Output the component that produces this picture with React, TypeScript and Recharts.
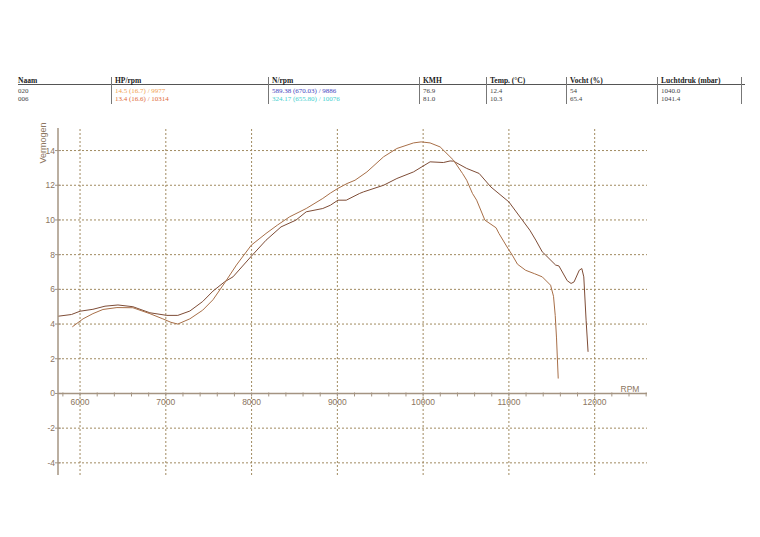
import React from "react";
import { LineChart, Line, XAxis, YAxis, ReferenceLine } from "recharts";

// ---- Data ----
const run020 = [
  { rpm: 5910, hp: 3.84 }, { rpm: 6035, hp: 4.3 }, { rpm: 6150, hp: 4.6 }, { rpm: 6267, hp: 4.84 },
  { rpm: 6430, hp: 4.95 }, { rpm: 6616, hp: 4.94 }, { rpm: 6814, hp: 4.6 }, { rpm: 6965, hp: 4.3 },
  { rpm: 7060, hp: 4.1 }, { rpm: 7140, hp: 4.0 }, { rpm: 7280, hp: 4.3 }, { rpm: 7430, hp: 4.8 },
  { rpm: 7550, hp: 5.4 }, { rpm: 7690, hp: 6.4 }, { rpm: 7823, hp: 7.4 }, { rpm: 7997, hp: 8.55 },
  { rpm: 8168, hp: 9.22 }, { rpm: 8300, hp: 9.7 }, { rpm: 8443, hp: 10.18 }, { rpm: 8637, hp: 10.66 },
  { rpm: 8830, hp: 11.24 }, { rpm: 8919, hp: 11.55 }, { rpm: 9007, hp: 11.82 }, { rpm: 9113, hp: 12.1 },
  { rpm: 9206, hp: 12.29 }, { rpm: 9345, hp: 12.77 }, { rpm: 9539, hp: 13.64 }, { rpm: 9694, hp: 14.12 },
  { rpm: 9888, hp: 14.44 }, { rpm: 9977, hp: 14.5 }, { rpm: 10081, hp: 14.44 }, { rpm: 10198, hp: 14.21 },
  { rpm: 10353, hp: 13.45 }, { rpm: 10459, hp: 12.68 }, { rpm: 10508, hp: 12.29 }, { rpm: 10575, hp: 11.53 },
  { rpm: 10624, hp: 11.14 }, { rpm: 10720, hp: 9.99 }, { rpm: 10850, hp: 9.55 }, { rpm: 10884, hp: 9.22 },
  { rpm: 10990, hp: 8.35 }, { rpm: 11040, hp: 7.97 }, { rpm: 11100, hp: 7.45 }, { rpm: 11195, hp: 7.1 },
  { rpm: 11300, hp: 6.9 }, { rpm: 11389, hp: 6.72 }, { rpm: 11486, hp: 6.24 }, { rpm: 11520, hp: 5.6 },
  { rpm: 11540, hp: 4.5 }, { rpm: 11555, hp: 3.2 }, { rpm: 11575, hp: 0.86 },
];

const run006 = [
  { rpm: 5743, hp: 4.45 }, { rpm: 5900, hp: 4.55 }, { rpm: 6000, hp: 4.74 }, { rpm: 6150, hp: 4.85 },
  { rpm: 6291, hp: 5.03 }, { rpm: 6442, hp: 5.1 }, { rpm: 6616, hp: 5.0 }, { rpm: 6814, hp: 4.65 },
  { rpm: 7012, hp: 4.5 }, { rpm: 7140, hp: 4.5 }, { rpm: 7280, hp: 4.75 }, { rpm: 7430, hp: 5.3 },
  { rpm: 7550, hp: 5.9 }, { rpm: 7687, hp: 6.44 }, { rpm: 7783, hp: 6.72 }, { rpm: 7997, hp: 7.91 },
  { rpm: 8168, hp: 8.83 }, { rpm: 8343, hp: 9.6 }, { rpm: 8517, hp: 9.99 }, { rpm: 8637, hp: 10.47 },
  { rpm: 8830, hp: 10.66 }, { rpm: 8919, hp: 10.85 }, { rpm: 9007, hp: 11.14 }, { rpm: 9104, hp: 11.14 },
  { rpm: 9260, hp: 11.53 }, { rpm: 9306, hp: 11.62 }, { rpm: 9539, hp: 12.0 }, { rpm: 9694, hp: 12.39 },
  { rpm: 9888, hp: 12.77 }, { rpm: 10081, hp: 13.35 }, { rpm: 10236, hp: 13.31 }, { rpm: 10314, hp: 13.4 },
  { rpm: 10353, hp: 13.39 }, { rpm: 10508, hp: 12.97 }, { rpm: 10653, hp: 12.68 }, { rpm: 10790, hp: 11.9 },
  { rpm: 11000, hp: 11.04 }, { rpm: 11157, hp: 9.99 }, { rpm: 11244, hp: 9.41 }, { rpm: 11313, hp: 8.84 },
  { rpm: 11389, hp: 8.16 }, { rpm: 11429, hp: 7.97 }, { rpm: 11545, hp: 7.4 }, { rpm: 11583, hp: 7.35 },
  { rpm: 11680, hp: 6.5 }, { rpm: 11725, hp: 6.34 }, { rpm: 11760, hp: 6.43 }, { rpm: 11820, hp: 7.1 },
  { rpm: 11850, hp: 7.2 }, { rpm: 11873, hp: 6.72 }, { rpm: 11900, hp: 4.22 }, { rpm: 11923, hp: 2.4 },
];

const majorX = [6000, 7000, 8000, 9000, 10000, 11000, 12000];
const minorX = [
  5800, 6000, 6200, 6400, 6600, 6800, 7000, 7200, 7400, 7600, 7800, 8000, 8200, 8400, 8600, 8800,
  9000, 9200, 9400, 9600, 9800, 10000, 10200, 10400, 10600, 10800, 11000, 11200, 11400, 11600, 11800,
  12000, 12200, 12400, 12600,
];
const yTicks = [-4, -2, 0, 2, 4, 6, 8, 10, 12, 14];
const yGrid = [-4, -2, 2, 4, 6, 8, 10, 12, 14];

const headers = ["Naam", "HP/rpm", "N/rpm", "KMH", "Temp. (°C)", "Vocht (%)", "Luchtdruk (mbar)"];
const row020 = ["020", "14.5 (16.7) / 9977", "589.38 (670.03) / 9886", "76.9", "12.4", "54", "1040.0"];
const row006 = ["006", "13.4 (16.6) / 10314", "324.17 (655.80) / 10076", "81.0", "10.3", "65.4", "1041.4"];

// ---- Layout / style ----
const W = 760;
const H = 537;
const TOP = 128;
const RIGHT = 113;
const LEFT_AXIS_W = 58;
const BOTTOM_AXIS_H = 62;
const X_DOMAIN: [number, number] = [5743, 12610];
const Y_DOMAIN: [number, number] = [-4.7, 15.3];
const PLOT_H = H - TOP - BOTTOM_AXIS_H;
const ZERO_Y = TOP + (PLOT_H * (Y_DOMAIN[1] - 0)) / (Y_DOMAIN[1] - Y_DOMAIN[0]);

const GRID = "#a08a60";
const AXIS = "#a49482";
const TICK_TEXT = "#8c7560";
const C020 = "#a86f48";
const C006 = "#7e4c36";

const colX = [18, 111, 268, 419, 486, 566, 657];
const sepX = [111, 268, 419, 486, 566, 657, 741];
const row020Colors = ["#444", "#f0a050", "#4444c0", "#444", "#444", "#444", "#444"];
const row006Colors = ["#444", "#e06a3a", "#44d0d0", "#444", "#444", "#444", "#444"];

function XTick(props: any) {
  const { x, payload } = props;
  const v = payload.value as number;
  const major = v % 1000 === 0;
  return (
    <g>
      <line x1={x} x2={x} y1={ZERO_Y - 1} y2={ZERO_Y + 3} stroke={AXIS} strokeWidth={1} />
      {major && (
        <text
          x={x}
          y={ZERO_Y + 12}
          textAnchor="middle"
          fontSize={8.5}
          fontFamily="Liberation Sans, Arial, sans-serif"
          fill={TICK_TEXT}
        >
          {v}
        </text>
      )}
    </g>
  );
}

function YTick(props: any) {
  const { y, payload } = props;
  const ax = LEFT_AXIS_W;
  return (
    <g>
      <line x1={ax - 3} x2={ax + 3} y1={y} y2={y} stroke={AXIS} strokeWidth={1} />
      <text
        x={ax - 3}
        y={y + 3}
        textAnchor="end"
        fontSize={8.5}
        fontFamily="Liberation Sans, Arial, sans-serif"
        fill={TICK_TEXT}
      >
        {payload.value}
      </text>
    </g>
  );
}

function HeaderTable() {
  const textStyle: React.CSSProperties = {
    position: "absolute",
    fontFamily: "Liberation Serif, Times New Roman, serif",
    whiteSpace: "nowrap",
    lineHeight: "8px",
  };
  return (
    <>
      <div style={{ position: "absolute", left: 18, top: 84, width: 727, height: 1, background: "#555" }} />
      {sepX.map((x, i) => (
        <div key={"s" + i} style={{ position: "absolute", left: x, top: 77, width: 1, height: 27, background: "#777" }} />
      ))}
      {headers.map((h, i) => (
        <div key={"h" + i} style={{ ...textStyle, left: colX[i] + (i === 0 ? 0 : 4), top: 77, fontSize: 7.5, fontWeight: "bold", color: "#222" }}>
          {h}
        </div>
      ))}
      {row020.map((t, i) => (
        <div key={"a" + i} style={{ ...textStyle, left: colX[i] + (i === 0 ? 0 : 4), top: 87, fontSize: 7, color: row020Colors[i] }}>
          {t}
        </div>
      ))}
      {row006.map((t, i) => (
        <div key={"b" + i} style={{ ...textStyle, left: colX[i] + (i === 0 ? 0 : 4), top: 95, fontSize: 7, color: row006Colors[i] }}>
          {t}
        </div>
      ))}
    </>
  );
}

export default function App() {
  return (
    <div style={{ position: "absolute", left: 0, top: 0, width: W, height: H, background: "#fff", overflow: "hidden" }}>
      <HeaderTable />
      <div style={{ position: "absolute", left: 0, top: 0 }}>
        <LineChart width={W} height={H} margin={{ top: TOP, right: RIGHT, bottom: 0, left: 0 }}>
          {yGrid.map((v) => (
            <ReferenceLine key={"h" + v} y={v} stroke={GRID} strokeDasharray="2 2" />
          ))}
          {majorX.map((v) => (
            <ReferenceLine key={"v" + v} x={v} stroke={GRID} strokeDasharray="2 2" />
          ))}
          <XAxis
            type="number"
            dataKey="rpm"
            domain={X_DOMAIN}
            ticks={minorX}
            interval={0}
            height={BOTTOM_AXIS_H}
            axisLine={false}
            tickLine={false}
            tick={<XTick />}
            allowDataOverflow
          />
          <YAxis
            type="number"
            dataKey="hp"
            domain={Y_DOMAIN}
            ticks={yTicks}
            interval={0}
            width={LEFT_AXIS_W}
            axisLine={{ stroke: AXIS, strokeWidth: 1.5 }}
            tickLine={false}
            tick={<YTick />}
            allowDataOverflow
          />
          <ReferenceLine y={0} stroke={AXIS} strokeWidth={1.5} />
          <Line data={run006} dataKey="hp" type="linear" stroke={C006} strokeWidth={1} dot={false} isAnimationActive={false} />
          <Line data={run020} dataKey="hp" type="linear" stroke={C020} strokeWidth={1} dot={false} isAnimationActive={false} />
        </LineChart>
      </div>
      <svg width={W} height={H} style={{ position: "absolute", left: 0, top: 0, pointerEvents: "none" }}>
        <text
          transform="translate(46,143) rotate(-90)"
          textAnchor="middle"
          fontSize={9}
          fontFamily="Liberation Sans, Arial, sans-serif"
          fill={TICK_TEXT}
        >
          Vermogen
        </text>
        <text x={630} y={392} textAnchor="middle" fontSize={8.5} fontFamily="Liberation Sans, Arial, sans-serif" fill={TICK_TEXT}>
          RPM
        </text>
      </svg>
    </div>
  );
}
